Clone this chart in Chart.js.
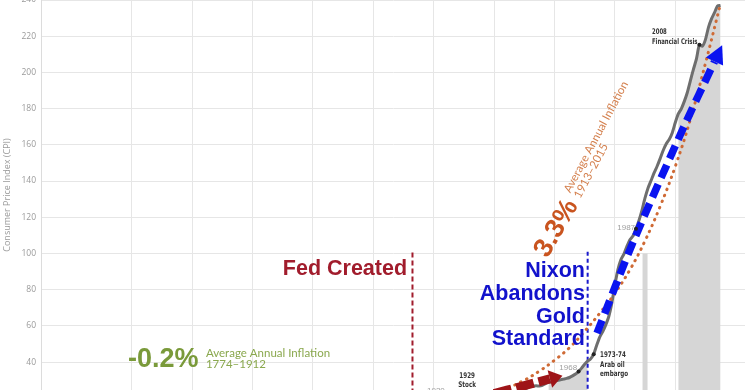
<!DOCTYPE html>
<html><head><meta charset="utf-8">
<script src="https://cdn.jsdelivr.net/npm/chart.js@4/dist/chart.umd.min.js"></script>
<style>html,body{margin:0;padding:0;background:#fff;overflow:hidden}#wrap{width:745px;height:390px;position:relative}</style>
</head><body><div id="wrap"><canvas id="c"></canvas></div>
<script>
// ---- data ----
const years = [1940,1941,1942,1943,1944,1945,1946,1947,1948,1949,1950,1951,1952,1953,1954,1955,1956,1957,1958,1959,
  1960,1961,1962,1963,1964,1965,1966,1967,1968,1969,1970,1971,1972,1973,1974,1975,1976,1977,1978,1979,
  1980,1981,1982,1983,1984,1985,1986,1987,1988,1989,1990,1991,1992,1993,1994,1995,1996,1997,1998,1999,
  2000,2001,2002,2003,2004,2005,2006,2007,2008,2009,2010,2011,2012,2013,2014,2015];
const cpi = [14.0,14.7,16.3,17.3,17.6,18.0,19.5,22.3,24.1,23.8,24.1,26.0,26.5,26.7,26.9,26.8,27.2,28.1,28.9,29.1,
  29.6,29.9,30.2,30.6,31.0,31.5,32.4,33.4,34.8,36.7,38.8,40.5,41.8,44.4,49.3,53.8,56.9,60.6,65.2,72.6,
  82.4,90.9,96.5,99.6,103.9,107.6,109.6,113.6,118.3,124.0,130.7,136.2,140.3,144.5,148.2,152.4,156.9,160.5,163.0,166.6,
  172.2,177.1,179.9,184.0,188.9,195.3,201.6,207.3,215.3,214.5,218.1,224.9,229.6,233.0,236.7,237.0];
const trendYears = [1943,1950,1955,1960,1965,1970,1975,1980,1985,1990,1995,2000,2005,2010,2015];
const trendValues = [24.3,30,35,41,48,57,67,78,91,107,126,148,174,205,238];
const blueArrowYears = [1974.1,1986.0,2002.6,2013.0];
const blueArrowValues = [56.0,106.1,169.0,206.0];
const redArrowYears = [1940,1944.3,1958.5];
const redArrowValues = [22.6,24.5,30.7];
const shadeStart = [1958,2001];
const shadeEnd = [1971,2015];
const fedYear = 1913, fedTop = 100.6;
const nixonYear = 1971, nixonTop = 101;
const greyBarYear = 1990, greyBarTop = 100;
const eventYears = [1968,1973,1987,2008];
const yTicks = [40,60,80,100,120,140,160,180,200,220,240];

// ---- derived series ----
const pts = years.map((y,i)=>({x:y,y:cpi[i]}));
const inShade = y => shadeStart.some((s,k)=> y>=s && y<=shadeEnd[k]);
const shadePts = years.map((y,i)=>({x:y,y: inShade(y)?cpi[i]:null}));
const trendPts = trendYears.map((y,i)=>({x:y,y:trendValues[i]}));
const bluePts = blueArrowYears.map((y,i)=>({x:y,y:blueArrowValues[i]}));
const redPts = redArrowYears.map((y,i)=>({x:y,y:redArrowValues[i]}));
const eventPts = eventYears.map(y=>({x:y,y:cpi[years.indexOf(y)]}));

const smallBold = 'bold 7.8px "DejaVu Sans Condensed", "Liberation Sans Narrow", sans-serif';
const texts = [
  {at:[1911.2,87.95], lines:['Fed Created'], font:'bold 21.5px "Liberation Sans", Arial, sans-serif', color:'#a11c2c', align:'right'},
  {at:[1970.1,86.8], lines:['Nixon','Abandons','Gold','Standard'], lh:22.7, font:'bold 21.5px "Liberation Sans", Arial, sans-serif', color:'#1212cc', align:'right'},
  {at:[1818.8,37.3], lines:['-0.2%'], font:'bold 27px "Liberation Sans", Arial, sans-serif', color:'#7a9a3a', align:'left'},
  {at:[1844.6,42.8], lines:['Average Annual Inflation','1774\u20131912'], lh:11, font:'11.5px Lato, sans-serif', color:'#8aa84e', align:'left'},
  {at:[1960.7,113.8], lines:['3.3%'], font:'bold 27px "Liberation Sans", Arial, sans-serif', color:'#c9541f', align:'center', base:'middle', rot:-60},
  {at:[1965.2,133.1], lines:['Average Annual Inflation','1913\u20132015'], lh:11.5, font:'11.5px Lato, sans-serif', color:'#d4804e', align:'left', rot:-62},
  {at:[1992.3,221.0], lines:['2008','Financial Crisis'], lh:10, font:smallBold, color:'#333', align:'left', sx:0.76},
  {at:[1975.1,42.8], lines:['1973-74','Arab oil','embargo'], lh:9.5, font:smallBold, color:'#333', align:'left', sx:0.8},
  {at:[1931.1,31.5], lines:['1929','Stock'], lh:9, font:smallBold, color:'#333', align:'center', sx:0.8},
  {at:[1967.5,35.6], lines:['1968'], font:'8px "Liberation Sans", sans-serif', color:'#a0a0a0', align:'right'},
  {at:[1986.7,112.7], lines:['1987'], font:'8px "Liberation Sans", sans-serif', color:'#a0a0a0', align:'right'},
  {at:[1917.8,23.2], lines:['1920'], font:'8px "Liberation Sans", sans-serif', color:'#a0a0a0', align:'left'}
];

const annot = {
  id:'annot',
  afterDatasetsDraw(chart){
    const ctx = chart.ctx, xs = chart.scales.x, ys = chart.scales.y;
    chart.data.datasets.forEach((ds,i)=>{
      if(!ds.arrowHead) return;
      const d = chart.getDatasetMeta(i).data;
      const a = d[d.length-2], b = d[d.length-1];
      const ang = Math.atan2(b.y-a.y, b.x-a.x);
      const {len,width} = ds.arrowHead;
      ctx.save(); ctx.translate(b.x,b.y); ctx.rotate(ang);
      ctx.beginPath(); ctx.moveTo(len,0); ctx.lineTo(0,-width/2); ctx.lineTo(0,width/2); ctx.closePath();
      ctx.fillStyle = ds.borderColor; ctx.fill(); ctx.restore();
    });
    for(const t of texts){
      const x = xs.getPixelForValue(t.at[0]), y = ys.getPixelForValue(t.at[1]);
      ctx.save(); ctx.translate(x,y); if(t.rot) ctx.rotate(t.rot*Math.PI/180);
      if(t.sx) ctx.scale(t.sx,1);
      ctx.font = t.font; ctx.fillStyle = t.color; ctx.textAlign = t.align; ctx.textBaseline = t.base||'alphabetic';
      t.lines.forEach((s,k)=> ctx.fillText(s,0,k*(t.lh||0)));
      ctx.restore();
    }
  }
};

new Chart(document.getElementById('c'), {
  type:'line',
  data:{datasets:[
    {label:'events', data:eventPts, showLine:false, pointRadius:2, pointBackgroundColor:'#222', pointBorderWidth:0, order:1},
    {label:'blue', data:bluePts, borderColor:'#0a14f0', borderWidth:7.5, borderDash:[14,7], pointRadius:0, tension:0.3, arrowHead:{len:18,width:19}, order:2},
    {label:'red', data:redPts, borderColor:'#9e1418', borderWidth:9, borderDash:[18,5], pointRadius:0, arrowHead:{len:13,width:18}, order:3},
    {label:'trend', data:trendPts, borderColor:'#cf6a35', borderWidth:3, borderDash:[0.5,6], borderCapStyle:'round', pointRadius:0, tension:0.4, order:4},
    {label:'cpi', data:pts, borderColor:'#6e6e6e', borderWidth:3, pointRadius:0, tension:0.2, order:6},
    {label:'fed', data:[{x:fedYear,y:fedTop},{x:fedYear,y:0}], borderColor:'#a11c2c', borderWidth:2, borderDash:[5,3], pointRadius:0, order:8},
    {label:'nixon', data:[{x:nixonYear,y:nixonTop},{x:nixonYear,y:0}], borderColor:'#1a1acc', borderWidth:2, borderDash:[4,3], pointRadius:0, order:8},
    {label:'grey bar', data:[{x:greyBarYear,y:greyBarTop},{x:greyBarYear,y:0}], borderColor:'#d6d6d6', borderWidth:5, pointRadius:0, order:9},
    {label:'shade', data:shadePts, borderWidth:0, borderColor:'rgba(0,0,0,0)', backgroundColor:'#d6d6d6', fill:'origin', spanGaps:false, pointRadius:0, order:10}
  ]},
  options:{
    responsive:true, maintainAspectRatio:false, animation:false,
    layout:{autoPadding:false, padding:{top:-1,left:0,right:0,bottom:0}},
    plugins:{legend:{display:false}, tooltip:{enabled:false}},
    scales:{
      x:{type:'linear', min:1790, max:2023.1,
         afterFit(s){ s.height = 0; s.paddingLeft = 0; s.paddingRight = 0; },
         ticks:{display:false, stepSize:20},
         grid:{color:'#e6e6e6', drawTicks:false}, border:{display:false}},
      y:{type:'linear', min:24.6, max:240,
         afterFit(s){ s.width = 41; s.paddingTop = 0; s.paddingBottom = 0; },
         afterBuildTicks(s){ s.ticks = [{value:24.6}].concat(yTicks.map(v=>({value:v}))); },
         ticks:{padding:5, color:'#9a9a9a', font:{size:8.5, family:'"Open Sans", sans-serif'}, callback:v=> yTicks.includes(v)? String(v) : ''},
         grid:{color:'#e6e6e6', drawTicks:false}, border:{display:true, color:'#dcdcdc'},
         title:{display:true, text:'Consumer Price Index (CPI)', color:'#9a9a9a', font:{size:9, family:'"Open Sans", sans-serif'}, padding:{top:2,bottom:0}}}
    }
  },
  plugins:[annot]
});
</script></body></html>
